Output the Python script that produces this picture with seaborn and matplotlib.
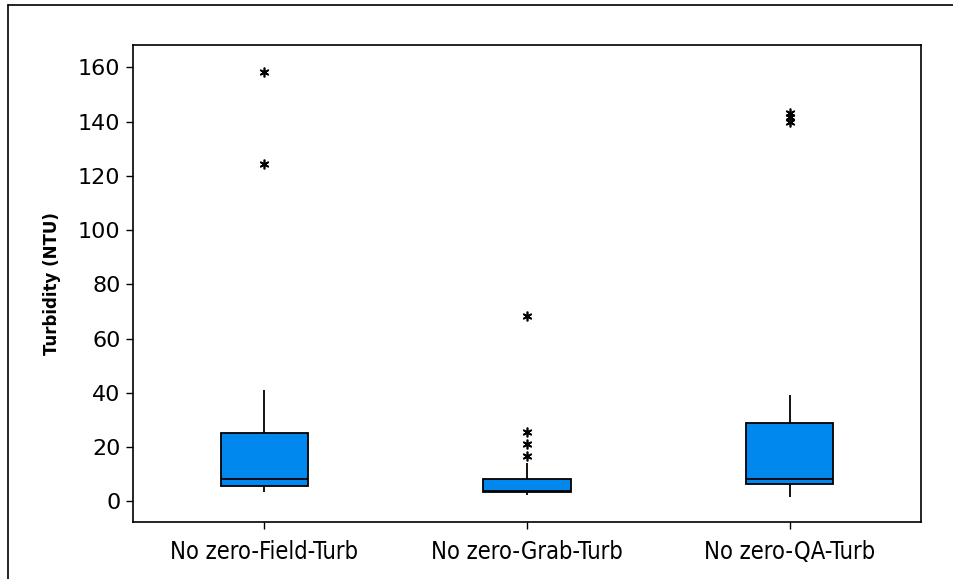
import matplotlib
matplotlib.use("Agg")
import matplotlib.pyplot as plt
from matplotlib.lines import Line2D
import pandas as pd
import seaborn as sns

# values (sorted samples per column)
field_turb = [3.3, 4.0, 5.0, 5.5, 6.5, 7.5, 8.1, 12.0, 18.0, 25.1, 41.0, 124.3, 158.3]
grab_turb = [2.3, 2.6, 2.9, 3.1, 3.3, 3.5, 3.6, 3.7, 3.8, 3.9, 4.0, 4.5, 5.5, 6.5,
             7.4, 8.2, 14.2, 16.7, 21.0, 25.7, 68.3]
qa_turb = [1.7, 3.0, 4.5, 5.6, 6.4, 6.9, 7.4, 7.9, 8.3, 11.0, 16.0, 22.0, 29.0, 39.3,
           140.0, 141.5, 143.0]
categories = ["No zero-Field-Turb", "No zero-Grab-Turb", "No zero-QA-Turb"]
y_ticks = [0, 20, 40, 60, 80, 100, 120, 140, 160]

df = pd.concat([
    pd.DataFrame({"group": categories[0], "value": field_turb}),
    pd.DataFrame({"group": categories[1], "value": grab_turb}),
    pd.DataFrame({"group": categories[2], "value": qa_turb}),
])

sns.set_style("ticks")
plt.rcParams["font.family"] = ["DejaVu Sans"]
plt.rcParams["text.color"] = "black"
plt.rcParams["xtick.color"] = "black"
plt.rcParams["ytick.color"] = "black"
plt.rcParams["axes.labelcolor"] = "black"

fig = plt.figure(figsize=(9.54, 5.79), dpi=100)
ax = fig.add_axes([133 / 954, 1 - 522 / 579, (921 - 133) / 954, (522 - 45) / 579])

sns.boxplot(data=df, x="group", y="value", order=categories, ax=ax,
            color="#0088ee", saturation=1, width=0.333, whis=1.5,
            showcaps=False,
            boxprops=dict(edgecolor="black", linewidth=1.3),
            medianprops=dict(color="black", linewidth=1.3),
            whiskerprops=dict(color="black", linewidth=1.3),
            flierprops=dict(marker=(6, 2, 0), markersize=7, markeredgecolor="black",
                            markeredgewidth=1.2, markerfacecolor="black"))

ax.set_xlim(-0.5, 2.5)
ax.set_ylim(-7.6, 168.2)
ax.set_yticks(y_ticks)
ax.set_xlabel("")
ax.set_ylabel("Turbidity (NTU)", fontsize=12, fontweight="bold", labelpad=12)
ax.tick_params(axis="y", labelsize=16, length=5, width=1, direction="out", pad=4)
ax.tick_params(axis="x", length=5, width=1, direction="out", pad=8)
for lbl in ax.get_xticklabels():
    lbl.set_family("DejaVu Sans")
    lbl.set_stretch("condensed")
    lbl.set_fontsize(17)
for s in ax.spines.values():
    s.set_visible(True)
    s.set_linewidth(1.2)
    s.set_color("black")

# outer frame (left and top edges visible)
fig.add_artist(Line2D([8 / 954, 8 / 954], [0, 1 - 5 / 579], color="black", lw=1.2))
fig.add_artist(Line2D([8 / 954, 1], [1 - 5 / 579, 1 - 5 / 579], color="black", lw=1.2))

fig.savefig("out.png", dpi=100)
